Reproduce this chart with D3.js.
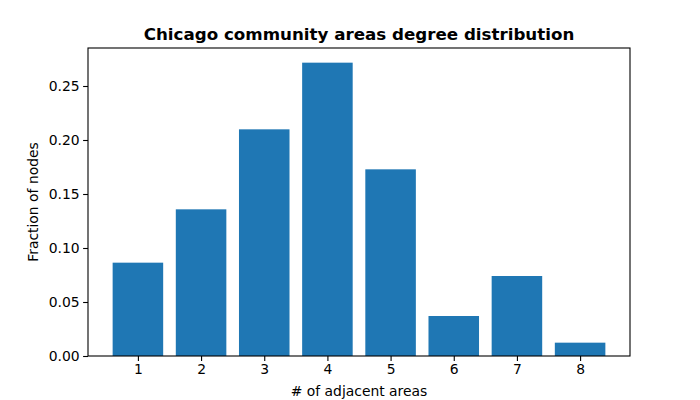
<!DOCTYPE html>
<html>
<head>
<meta charset="utf-8">
<script src="https://cdn.jsdelivr.net/npm/d3@7"></script>
<style>
  body { margin: 0; background: #fff; }
  text { font-family: "DejaVu Sans", sans-serif; fill: #000; }
</style>
</head>
<body>
<svg id="chart" width="700" height="400"></svg>
<script>
const degrees = [1, 2, 3, 4, 5, 6, 7, 8];
const counts = [7, 11, 17, 22, 14, 3, 6, 1];
const total = 81;
const fractions = counts.map(c => c / total);
const yTicks = [0, 0.05, 0.10, 0.15, 0.20, 0.25];

const svg = d3.select("#chart");
const plotLeft = 88, plotRight = 630, plotTop = 48, plotBottom = 356;
const barWidth = 0.8;

const x = d3.scaleLinear()
	.domain([0.6 - 0.39, 8.4 + 0.39])
	.range([plotLeft, plotRight]);
const ymax = d3.max(fractions) * 1.05;
const y = d3.scaleLinear()
	.domain([0, ymax])
	.range([plotBottom, plotTop]);

svg.append("g")
	.selectAll("rect")
	.data(degrees)
	.enter()
	.append("rect")
	.attr("x", (d) => x(d - barWidth / 2))
	.attr("width", (d) => x(d + barWidth / 2) - x(d - barWidth / 2))
	.attr("y", (d, i) => y(fractions[i]))
	.attr("height", (d, i) => y(0) - y(fractions[i]))
	.attr("fill", "#1f77b4");

const xAxis = svg.append("g")
	.attr("transform", "translate(0," + plotBottom + ")")
	.call(d3.axisBottom(x).tickValues(degrees).tickSize(4.9).tickPadding(3.5).tickFormat(d3.format("d")));
const yAxis = svg.append("g")
	.attr("transform", "translate(" + plotLeft + ",0)")
	.call(d3.axisLeft(y).tickValues(yTicks).tickSize(4.9).tickPadding(3.5).tickFormat(d3.format(".2f")));

[xAxis, yAxis].forEach(function(a) {
	a.select(".domain").remove();
	a.selectAll("line").attr("stroke", "#000").attr("stroke-width", 1.1);
	a.selectAll("text").attr("font-size", "13.9px").attr("font-family", "DejaVu Sans");
});

// frame
svg.append("rect")
	.attr("x", plotLeft)
	.attr("y", plotTop)
	.attr("width", plotRight - plotLeft)
	.attr("height", plotBottom - plotTop)
	.attr("fill", "none")
	.attr("stroke", "#000")
	.attr("stroke-width", 1.1);

svg.append("text")
	.text("Chicago community areas degree distribution")
	.attr("x", (plotLeft + plotRight) / 2)
	.attr("y", 40)
	.attr("text-anchor", "middle")
	.attr("font-size", "16.7px")
	.attr("font-weight", "bold");

svg.append("text")
	.text("# of adjacent areas")
	.attr("x", (plotLeft + plotRight) / 2)
	.attr("y", 396)
	.attr("text-anchor", "middle")
	.attr("font-size", "13.9px");

svg.append("text")
	.text("Fraction of nodes")
	.attr("transform", "translate(38," + ((plotTop + plotBottom) / 2) + ") rotate(270)")
	.attr("text-anchor", "middle")
	.attr("font-size", "13.9px");
</script>
</body>
</html>
